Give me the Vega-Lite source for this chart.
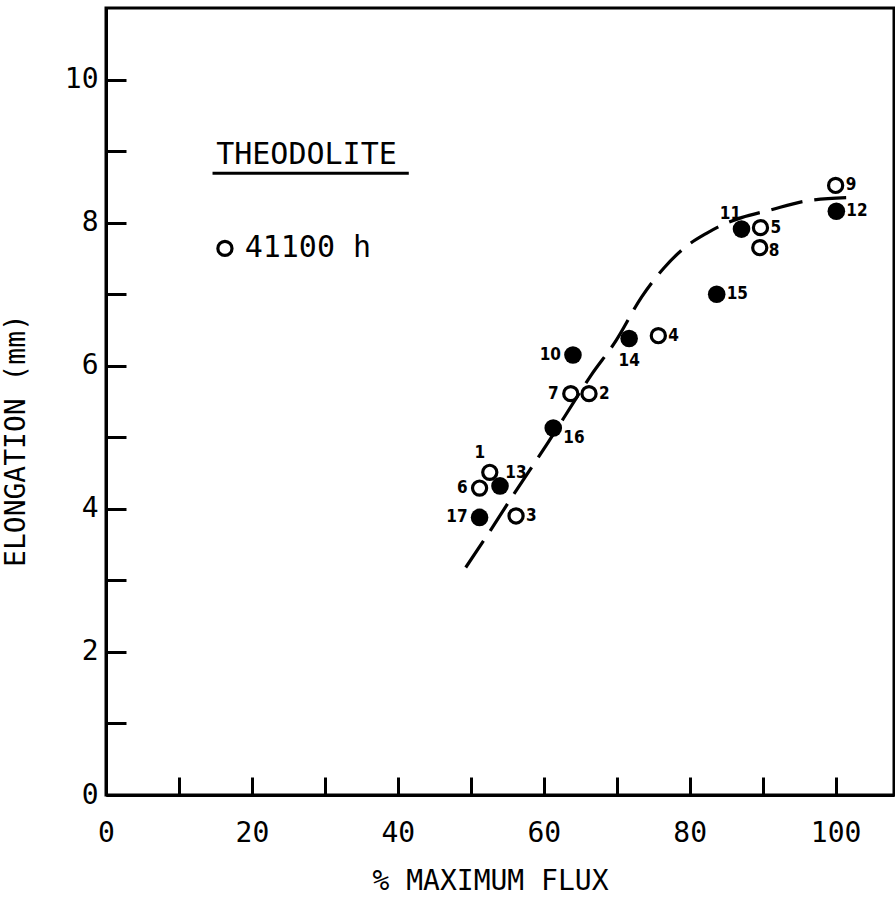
{
  "$schema": "https://vega.github.io/schema/vega-lite/v6.json",
  "width": 788,
  "height": 787,
  "autosize": {"type": "none"},
  "padding": {"left": 106, "top": 8, "right": 1, "bottom": 102},
  "background": "white",
  "config": {
    "view": {"stroke": "black", "strokeWidth": 3},
    "axis": {
      "grid": false,
      "domainColor": "black",
      "domainWidth": 3,
      "tickColor": "black",
      "tickWidth": 3,
      "labelColor": "black",
      "titleColor": "black",
      "labelFont": "DejaVu Sans Mono",
      "titleFont": "DejaVu Sans Mono",
      "labelFontSize": 28,
      "titleFontSize": 28,
      "titleFontWeight": "normal",
      "labelOverlap": false,
      "labelFlush": false
    }
  },
  "datasets": {
    "pts": [
      {"n": "1", "flux": 52.6, "elong": 4.51, "kind": "open"},
      {"n": "2", "flux": 66.2, "elong": 5.61, "kind": "open"},
      {"n": "3", "flux": 56.2, "elong": 3.90, "kind": "open"},
      {"n": "4", "flux": 75.7, "elong": 6.42, "kind": "open"},
      {"n": "5", "flux": 89.7, "elong": 7.93, "kind": "open"},
      {"n": "6", "flux": 51.2, "elong": 4.29, "kind": "open"},
      {"n": "7", "flux": 63.7, "elong": 5.61, "kind": "open"},
      {"n": "8", "flux": 89.6, "elong": 7.65, "kind": "open"},
      {"n": "9", "flux": 100.0, "elong": 8.52, "kind": "open"},
      {"n": "10", "flux": 64.0, "elong": 6.15, "kind": "filled"},
      {"n": "11", "flux": 87.1, "elong": 7.91, "kind": "filled"},
      {"n": "12", "flux": 100.1, "elong": 8.16, "kind": "filled"},
      {"n": "13", "flux": 54.0, "elong": 4.32, "kind": "filled"},
      {"n": "14", "flux": 71.7, "elong": 6.38, "kind": "filled"},
      {"n": "15", "flux": 83.7, "elong": 7.00, "kind": "filled"},
      {"n": "16", "flux": 61.3, "elong": 5.13, "kind": "filled"},
      {"n": "17", "flux": 51.2, "elong": 3.88, "kind": "filled"}
    ],
    "curve": [
      {"flux": 49.3, "elong": 3.18},
      {"flux": 52.7, "elong": 3.70},
      {"flux": 55.8, "elong": 4.19},
      {"flux": 60.6, "elong": 4.93},
      {"flux": 62.8, "elong": 5.28},
      {"flux": 66.5, "elong": 5.87},
      {"flux": 69.9, "elong": 6.35},
      {"flux": 73.4, "elong": 6.96},
      {"flux": 76.5, "elong": 7.37},
      {"flux": 79.3, "elong": 7.65},
      {"flux": 82.3, "elong": 7.85},
      {"flux": 84.3, "elong": 7.96},
      {"flux": 87.1, "elong": 8.07},
      {"flux": 90.8, "elong": 8.17},
      {"flux": 96.4, "elong": 8.31},
      {"flux": 101.8, "elong": 8.35}
    ],
    "notes": [
      {"flux": 15.1, "elong": 8.94, "text": "THEODOLITE"},
      {"flux": 19.0, "elong": 7.64, "text": "41100 h"}
    ],
    "underline": [
      {"flux": 14.6, "flux2": 41.5, "elong": 8.69}
    ],
    "legsym": [
      {"flux": 16.3, "elong": 7.64}
    ]
  },
  "encoding": {
    "x": {
      "field": "flux",
      "type": "quantitative",
      "scale": {"domain": [0, 108], "nice": false, "zero": false},
      "axis": {
        "title": "% MAXIMUM FLUX",
        "values": [0, 10, 20, 30, 40, 50, 60, 70, 80, 90, 100],
        "labelExpr": "datum.value % 20 == 0 ? datum.label : ''",
        "tickSize": -18,
        "labelPadding": 42,
        "titlePadding": 20,
        "titleX": 384
      }
    },
    "y": {
      "field": "elong",
      "type": "quantitative",
      "scale": {"domain": [0, 11], "nice": false, "zero": false},
      "axis": {
        "title": "ELONGATION (mm)",
        "values": [0, 1, 2, 3, 4, 5, 6, 7, 8, 9, 10],
        "labelExpr": "datum.value % 2 == 0 ? datum.label : ''",
        "tickSize": -20,
        "labelPadding": 28,
        "titlePadding": 34,
        "titleY": 432
      }
    }
  },
  "layer": [
    {
      "data": {"name": "curve"},
      "mark": {"type": "line", "color": "black", "strokeWidth": 3.2, "strokeDash": [32, 12], "interpolate": "monotone"}
    },
    {
      "data": {"name": "pts"},
      "transform": [{"filter": "datum.kind == 'filled'"}],
      "mark": {"type": "circle", "color": "black", "opacity": 1, "size": 310}
    },
    {
      "data": {"name": "pts"},
      "transform": [{"filter": "datum.kind == 'open'"}],
      "mark": {"type": "point", "shape": "circle", "filled": false, "color": "black", "opacity": 1, "strokeWidth": 3.2, "size": 200}
    },
    {
      "data": {"name": "legsym"},
      "mark": {"type": "point", "shape": "circle", "filled": false, "color": "black", "opacity": 1, "strokeWidth": 3.2, "size": 200}
    },
    {
      "data": {"name": "underline"},
      "mark": {"type": "rule", "color": "black", "strokeWidth": 3},
      "encoding": {"x2": {"field": "flux2"}}
    },
    {
      "data": {"name": "notes"},
      "mark": {"type": "text", "align": "left", "baseline": "middle", "font": "DejaVu Sans Mono", "fontSize": 30, "color": "black"},
      "encoding": {"text": {"field": "text"}}
    },
    {
      "data": {"name": "pts"},
      "transform": [{"filter": {"field": "n", "oneOf": ["2", "3", "4", "5", "9", "12", "15"]}}],
      "mark": {"type": "text", "align": "left", "baseline": "middle", "dx": 10, "font": "DejaVu Sans Condensed, DejaVu Sans", "fontSize": 17, "fontWeight": "bold", "color": "black"},
      "encoding": {"text": {"field": "n"}}
    },
    {
      "data": {"name": "pts"},
      "transform": [{"filter": {"field": "n", "oneOf": ["8"]}}],
      "mark": {"type": "text", "align": "left", "baseline": "middle", "dx": 9, "dy": 3, "font": "DejaVu Sans Condensed, DejaVu Sans", "fontSize": 17, "fontWeight": "bold", "color": "black"},
      "encoding": {"text": {"field": "n"}}
    },
    {
      "data": {"name": "pts"},
      "transform": [{"filter": {"field": "n", "oneOf": ["16"]}}],
      "mark": {"type": "text", "align": "left", "baseline": "middle", "dx": 10, "dy": 10, "font": "DejaVu Sans Condensed, DejaVu Sans", "fontSize": 17, "fontWeight": "bold", "color": "black"},
      "encoding": {"text": {"field": "n"}}
    },
    {
      "data": {"name": "pts"},
      "transform": [{"filter": {"field": "n", "oneOf": ["6", "7", "10", "17"]}}],
      "mark": {"type": "text", "align": "right", "baseline": "middle", "dx": -12, "font": "DejaVu Sans Condensed, DejaVu Sans", "fontSize": 17, "fontWeight": "bold", "color": "black"},
      "encoding": {"text": {"field": "n"}}
    },
    {
      "data": {"name": "pts"},
      "transform": [{"filter": {"field": "n", "oneOf": ["1"]}}],
      "mark": {"type": "text", "align": "center", "baseline": "middle", "dx": -10, "dy": -19, "font": "DejaVu Sans Condensed, DejaVu Sans", "fontSize": 17, "fontWeight": "bold", "color": "black"},
      "encoding": {"text": {"field": "n"}}
    },
    {
      "data": {"name": "pts"},
      "transform": [{"filter": {"field": "n", "oneOf": ["11"]}}],
      "mark": {"type": "text", "align": "center", "baseline": "middle", "dx": -11, "dy": -15, "font": "DejaVu Sans Condensed, DejaVu Sans", "fontSize": 17, "fontWeight": "bold", "color": "black"},
      "encoding": {"text": {"field": "n"}}
    },
    {
      "data": {"name": "pts"},
      "transform": [{"filter": {"field": "n", "oneOf": ["13"]}}],
      "mark": {"type": "text", "align": "center", "baseline": "middle", "dx": 16, "dy": -13, "font": "DejaVu Sans Condensed, DejaVu Sans", "fontSize": 17, "fontWeight": "bold", "color": "black"},
      "encoding": {"text": {"field": "n"}}
    },
    {
      "data": {"name": "pts"},
      "transform": [{"filter": {"field": "n", "oneOf": ["14"]}}],
      "mark": {"type": "text", "align": "center", "baseline": "middle", "dy": 22, "font": "DejaVu Sans Condensed, DejaVu Sans", "fontSize": 17, "fontWeight": "bold", "color": "black"},
      "encoding": {"text": {"field": "n"}}
    }
  ]
}
